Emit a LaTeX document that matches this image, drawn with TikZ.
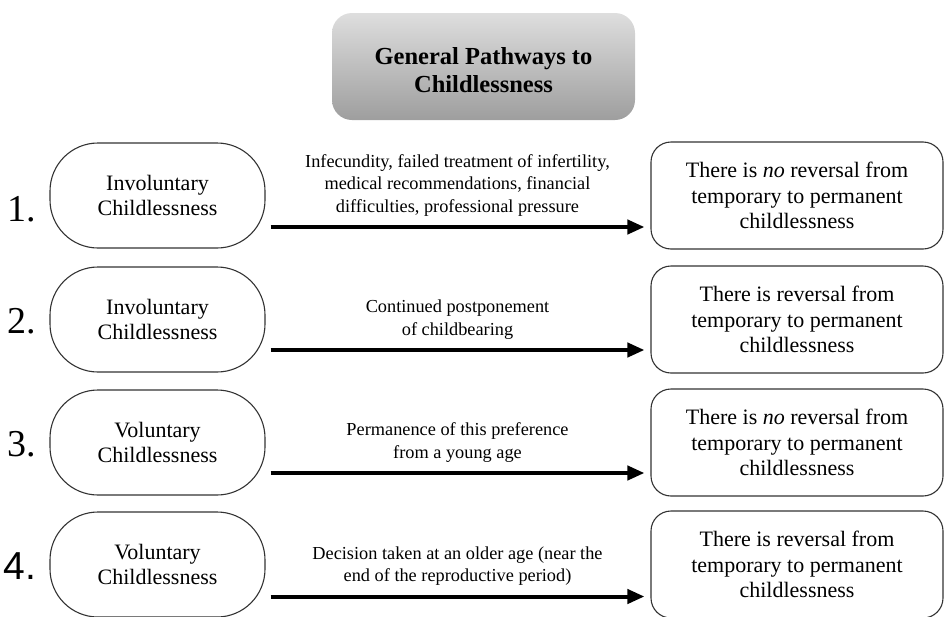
\documentclass[tikz,border=0pt]{standalone}
\usepackage{fontspec}
\setmainfont{Liberation Serif}
\newfontfamily\numsans{Liberation Sans}
\usetikzlibrary{positioning,calc,arrows.meta}

\definecolor{titletop}{HTML}{DEDEDE}
\definecolor{titlebot}{HTML}{9E9E9E}

\tikzset{
  titlebox/.style={draw=none, rounded corners=20pt, top color=titletop, bottom color=titlebot,
    minimum width=303pt, minimum height=107pt},
  titletext/.style={align=center, inner sep=0pt, font=\bfseries\fontsize{24.5}{28}\selectfont},
  pathbox/.style={draw=black!80, line width=1.1pt, rounded corners=48pt, minimum width=215pt,
    minimum height=105pt, align=center, font=\fontsize{22}{25}\selectfont},
  outbox/.style={draw=black!80, line width=1.1pt, rounded corners=20pt, minimum width=292pt,
    minimum height=107pt, align=center, font=\fontsize{22}{25.5}\selectfont},
  lbl/.style={align=center, inner sep=0pt, font=\fontsize{18.3}{22.5}\selectfont},
  num/.style={inner sep=0pt, font=\fontsize{38}{40}\selectfont},
  arr/.style={line width=4pt, -{Triangle[length=17pt, width=14pt]}},
}

\begin{document}
\begin{tikzpicture}[x=1pt, y=-1pt]
  \clip (0,0) rectangle (944,616);

  % 1. title
  \node[titlebox] (titlebg) at (483.5,66.5) {};
  \node[titletext] (title) at (483.5,70) {General Pathways to\\Childlessness};

  % 2. starting points
  \node[pathbox] (inv1) at (157.5,195.5) {Involuntary\\Childlessness};
  \node[pathbox] (inv2) at (157.5,319.5) {Involuntary\\Childlessness};
  \node[pathbox] (vol3) at (157.5,442.5) {Voluntary\\Childlessness};
  \node[pathbox] (vol4) at (157.5,564.5) {Voluntary\\Childlessness};

  % 3. outcomes
  \node[outbox] (res1) at (797,195.5) {There is \textit{no} reversal from\\temporary to permanent\\childlessness};
  \node[outbox] (res2) at (797,319.5) {There is reversal from\\temporary to permanent\\childlessness};
  \node[outbox] (res3) at (797,442.5) {There is \textit{no} reversal from\\temporary to permanent\\childlessness};
  \node[outbox] (res4) at (797,564.5) {There is reversal from\\temporary to permanent\\childlessness};

  % 4. numbering
  \node[num, left=13pt of inv1, yshift=-13.5pt] (n1) {1.};
  \node[num, left=13pt of inv2, yshift=-2pt] (n2) {2.};
  \node[num, left=13pt of vol3, yshift=-2pt] (n3) {3.};
  \node[num, left=13pt of vol4, yshift=-2pt, font=\numsans\fontsize{39}{40}\selectfont] (n4) {4.};

  % 5. pathways
  \draw[arr] ($(inv1.east)+(5,31.5)$) -- node[lbl, above=9pt] (c1)
    {Infecundity, failed treatment of infertility,\\medical recommendations, financial\\difficulties, professional pressure}
    ($(res1.west)+(-6,31.5)$);
  \draw[arr] ($(inv2.east)+(5,30.5)$) -- node[lbl, above=9pt] (c2)
    {Continued postponement\\of childbearing} ($(res2.west)+(-6,30.5)$);
  \draw[arr] ($(vol3.east)+(5,30.5)$) -- node[lbl, above=9pt] (c3)
    {Permanence of this preference\\from a young age} ($(res3.west)+(-6,30.5)$);
  \draw[arr] ($(vol4.east)+(5,32)$) -- node[lbl, above=9pt] (c4)
    {Decision taken at an older age (near the\\end of the reproductive period)} ($(res4.west)+(-6,32)$);
\end{tikzpicture}
\end{document}
